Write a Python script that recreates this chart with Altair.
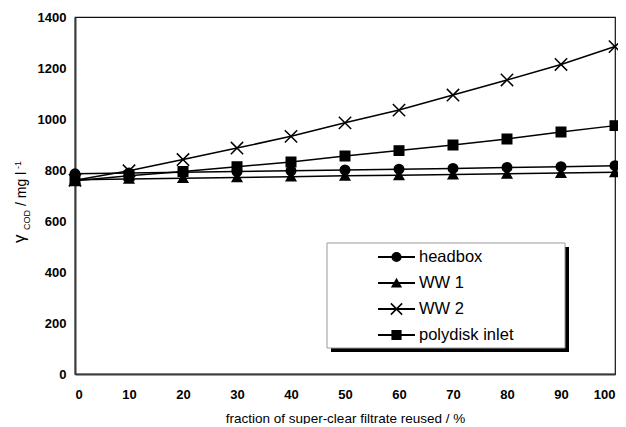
import altair as alt
import pandas as pd

# ---- data ----
fraction = [0, 10, 20, 30, 40, 50, 60, 70, 80, 90, 100]
headbox = [785, 788, 791, 794, 797, 800, 803, 806, 810, 813, 817]
ww1 = [762, 765, 768, 771, 774, 777, 779, 782, 785, 788, 791]
ww2 = [760, 797, 841, 886, 932, 985, 1035, 1094, 1153, 1214, 1284]
polydisk = [758, 777, 794, 813, 831, 855, 876, 898, 922, 949, 974]
series_names = ["headbox", "WW 1", "WW 2", "polydisk inlet"]
x_ticks = [0, 10, 20, 30, 40, 50, 60, 70, 80, 90, 100]
y_ticks = [0, 200, 400, 600, 800, 1000, 1200, 1400]
x_title = "fraction of super-clear filtrate reused / %"

rows = []
for name, vals in zip(series_names, [headbox, ww1, ww2, polydisk]):
    for f, v in zip(fraction, vals):
        rows.append({"fraction": f, "cod": v, "series": name})
df = pd.DataFrame(rows)
legend_df = pd.DataFrame({"series": series_names})

FONT = "Liberation Sans"

x = alt.X("fraction:Q", scale=alt.Scale(domain=[0, 100], nice=False),
          axis=alt.Axis(values=x_ticks, title=x_title, labelPadding=14, format="d",
                        titlePadding=10, titleFontWeight="normal", titleFontSize=13.5))
y = alt.Y("cod:Q", scale=alt.Scale(domain=[0, 1400], nice=False),
          axis=alt.Axis(values=y_ticks, title=None, labelPadding=9, format="d"))

marker_shapes = ["circle", "triangle-up", "M-1.3,-1.3L1.3,1.3M-1.3,1.3L1.3,-1.3", "square"]
shape_scale = alt.Scale(domain=series_names, range=marker_shapes)

base = alt.Chart(df)
lines = base.mark_line(color="black", strokeWidth=1.5).encode(
    x=x, y=y, detail="series:N")
points = base.mark_point(filled=True, fill="black", stroke="black", strokeWidth=1.5,
                         size=90, opacity=1).encode(
    x=x, y=y, shape=alt.Shape("series:N", scale=shape_scale, legend=None))
data_layer = alt.layer(lines, points)

# ---- legend (box with drop shadow, line+marker keys and labels) ----
LX, LY, LW, LH = 252, 226, 238, 105
one = alt.Data(values=[{}])
shadow = alt.Chart(one).mark_rect(color="black").encode(
    x=alt.value(LX + 4), x2=alt.value(LX + LW + 4), y=alt.value(LY + 4), y2=alt.value(LY + LH + 4))
frame = alt.Chart(one).mark_rect(fill="white", stroke="#9a9a9a", strokeWidth=1).encode(
    x=alt.value(LX), x2=alt.value(LX + LW), y=alt.value(LY), y2=alt.value(LY + LH))

row_y = alt.Y("series:N", sort=series_names, axis=None,
              scale=alt.Scale(type="point", domain=series_names, range=[LY + 14, LY + 92],
                              padding=0))
lbase = alt.Chart(legend_df)
key_lines = lbase.mark_rule(color="black", strokeWidth=1.8).encode(
    x=alt.value(LX + 51), x2=alt.value(LX + 88), y=row_y)
key_marks = lbase.mark_point(filled=True, fill="black", stroke="black", strokeWidth=1.5,
                             size=75, opacity=1).encode(
    x=alt.value(LX + 69.5), y=row_y,
    shape=alt.Shape("series:N", scale=shape_scale, legend=None))
key_text = lbase.mark_text(align="left", baseline="middle", font=FONT, fontSize=16.5,
                           color="black").encode(
    x=alt.value(LX + 92), y=row_y, text="series:N")
legend_layer = alt.layer(shadow, frame, key_lines, key_marks, key_text)

# ---- y-axis title with subscript / superscript ----
t_gamma = alt.Chart(one).mark_text(text="γ", angle=270, align="left", baseline="alphabetic",
                                   fontSize=17, font=FONT, color="black").encode(
    x=alt.value(-50), y=alt.value(226))
t_sub = alt.Chart(one).mark_text(text="COD", angle=270, align="left", baseline="alphabetic",
                                 fontSize=9, font=FONT, color="black").encode(
    x=alt.value(-45.5), y=alt.value(213))
t_unit = alt.Chart(one).mark_text(text="/ mg l", angle=270, align="left", baseline="alphabetic",
                                  fontSize=14, font=FONT, color="black").encode(
    x=alt.value(-49.5), y=alt.value(189))
t_sup = alt.Chart(one).mark_text(text="-1", angle=270, align="left", baseline="alphabetic",
                                 fontSize=9, font=FONT, color="black").encode(
    x=alt.value(-54), y=alt.value(152))
title_layer = alt.layer(t_gamma, t_sub, t_unit, t_sup)

chart = alt.layer(data_layer, legend_layer, title_layer).resolve_scale(
    y="independent"
).properties(
    width=540, height=357,
    autosize=alt.AutoSizeParams(type="none"),
    padding={"left": 67, "top": 9, "right": 3, "bottom": 50},
    background="white",
).configure_view(
    stroke="#111111", strokeWidth=1.2
).configure_axis(
    domainColor="#3a3a3a", domainWidth=2, ticks=False, grid=False,
    labelFont=FONT, labelFontSize=13, labelFontWeight="bold", labelColor="black",
    titleFont=FONT, titleColor="black",
)

chart.save("out.html", embed_options={"renderer": "svg", "actions": False})
